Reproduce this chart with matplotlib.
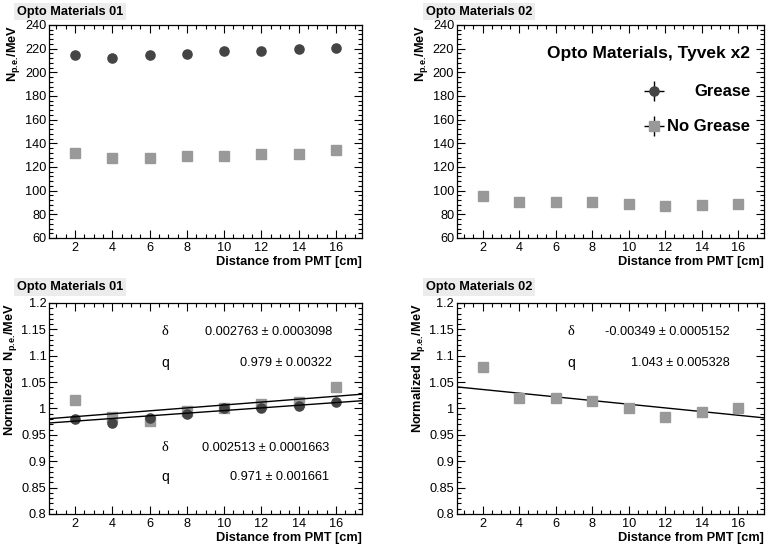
import numpy as np
import matplotlib.pyplot as plt
from matplotlib.lines import Line2D
from matplotlib.ticker import MultipleLocator, FixedLocator, FixedFormatter

plt.rcParams['font.family'] = ['Liberation Sans', 'DejaVu Sans']
plt.rcParams['mathtext.fontset'] = 'custom'
plt.rcParams['mathtext.rm'] = 'Liberation Sans:bold'
plt.rcParams['mathtext.bf'] = 'Liberation Sans:bold'

# data
dist = [2, 4, 6, 8, 10, 12, 14, 16]
om01_grease = [214.5, 212.5, 214.5, 215.7, 218.3, 218.3, 219.3, 220.5]
om01_nogrease = [131.7, 127.2, 127.2, 129.0, 129.6, 130.8, 131.2, 134.6]
om02_nogrease = [95.2, 90.3, 90.3, 90.0, 89.0, 87.0, 88.0, 88.8]

om01_grease_norm = [0.981, 0.973, 0.982, 0.989, 1.0, 1.0, 1.005, 1.012]
om01_nogrease_norm = [1.017, 0.983, 0.977, 0.995, 1.0, 1.008, 1.012, 1.040]
om02_nogrease_norm = [1.079, 1.019, 1.019, 1.015, 1.0, 0.983, 0.994, 1.0]
om02_nogrease_norm_err = [0, 0, 0, 0, 0.008, 0, 0, 0]

# fit results: (delta, delta err, q, q err)
fit01_nogrease = ('0.002763', '0.0003098', '0.979', '0.00322')
fit01_grease = ('0.002513', '0.0001663', '0.971', '0.001661')
fit02_nogrease = ('-0.00349', '0.0005152', '1.043', '0.005328')

raw_ticks = [60, 80, 100, 120, 140, 160, 180, 200, 220, 240]
norm_ticks = [0.8, 0.85, 0.9, 0.95, 1.0, 1.05, 1.1, 1.15, 1.2]
norm_labels = ['0.8', '0.85', '0.9', '0.95', '1', '1.05', '1.1', '1.15', '1.2']

c_grease = '#444444'
c_nogr = '#999999'
xlo, xhi = 0.6, 17.4
ms = 6.6

fig = plt.figure(figsize=(7.71, 5.5), dpi=100)
ax1 = fig.add_axes([0.0636, 0.5673, 0.406, 0.3873])
ax2 = fig.add_axes([0.5927, 0.5673, 0.398, 0.3873])
ax3 = fig.add_axes([0.0636, 0.0655, 0.406, 0.3836])
ax4 = fig.add_axes([0.5927, 0.0655, 0.398, 0.3836])


def style(ax, norm):
    ax.set_xlim(xlo, xhi)
    ax.xaxis.set_major_locator(MultipleLocator(2))
    ax.xaxis.set_minor_locator(MultipleLocator(0.5))
    if norm:
        ax.set_ylim(0.8, 1.2)
        ax.yaxis.set_major_locator(FixedLocator(norm_ticks))
        ax.yaxis.set_major_formatter(FixedFormatter(norm_labels))
        ax.yaxis.set_minor_locator(MultipleLocator(0.01))
    else:
        ax.set_ylim(60, 240)
        ax.yaxis.set_major_locator(FixedLocator(raw_ticks))
        ax.yaxis.set_minor_locator(MultipleLocator(4))
    ax.tick_params(which='both', direction='in', top=True, right=True,
                   labelsize=9.2, width=0.8, pad=2)
    ax.tick_params(which='major', length=6)
    ax.tick_params(which='minor', length=3)
    ax.tick_params(axis='x', pad=3)
    for s in ax.spines.values():
        s.set_linewidth(0.9)
    ax.set_xlabel('Distance from PMT [cm]', fontsize=9.2, fontweight='bold',
                  loc='right', labelpad=1)


for ax, norm in [(ax1, False), (ax2, False), (ax3, True), (ax4, True)]:
    style(ax, norm)

ax1.plot(dist, om01_nogrease, 's', color=c_nogr, ms=ms)
ax1.plot(dist, om01_grease, 'o', color=c_grease, ms=ms)
ax2.plot(dist, om02_nogrease, 's', color=c_nogr, ms=ms)

ax3.plot(dist, om01_nogrease_norm, 's', color=c_nogr, ms=ms)
ax3.plot(dist, om01_grease_norm, 'o', color=c_grease, ms=ms)
ax4.errorbar(dist, om02_nogrease_norm, yerr=om02_nogrease_norm_err, fmt='s',
             color=c_nogr, ecolor='black', elinewidth=1, ms=ms)

# fitted lines y = q + delta * x
xf = np.linspace(xlo, xhi, 2)
for ax, fits in [(ax3, [fit01_nogrease, fit01_grease]), (ax4, [fit02_nogrease])]:
    for f in fits:
        ax.plot(xf, float(f[2]) + float(f[0]) * xf, color='black', lw=1)

sub = r'N$_{\mathbf{p.\!e.\!}}$/MeV'
ax1.set_ylabel(sub, fontsize=9.2, fontweight='bold', loc='top', labelpad=2)
ax2.set_ylabel(sub, fontsize=9.2, fontweight='bold', loc='top', labelpad=2)
ax3.set_ylabel('Normilezed  ' + sub, fontsize=9.2,
               fontweight='bold', loc='top', labelpad=2)
ax4.set_ylabel('Normalized ' + sub, fontsize=9.2,
               fontweight='bold', loc='top', labelpad=2)


def fit_text(ax, f, ys, xs_sym, xs_val):
    ax.text(xs_sym, ys[0], '\u03b4', fontsize=10.5, family='Liberation Serif',
            transform=ax.transAxes, ha='left', va='center')
    ax.text(xs_sym, ys[1], 'q', fontsize=10, transform=ax.transAxes,
            ha='left', va='center')
    ax.text(xs_val, ys[0], f[0] + ' \u00b1 ' + f[1], fontsize=9.2,
            transform=ax.transAxes, ha='right', va='center')
    ax.text(xs_val, ys[1], f[2] + ' \u00b1 ' + f[3], fontsize=9.2,
            transform=ax.transAxes, ha='right', va='center')


fit_text(ax3, fit01_nogrease, [0.863, 0.716], 0.36, 0.905)
fit_text(ax3, fit01_grease, [0.313, 0.175], 0.36, 0.895)
fit_text(ax4, fit02_nogrease, [0.863, 0.716], 0.36, 0.89)

# legend (ROOT style: cross + marker, labels right aligned)
cross = Line2D([], [], ls='none', marker='+', ms=15, mew=1, color='black')
h_gr = Line2D([], [], ls='none', marker='o', ms=ms, color=c_grease)
h_ng = Line2D([], [], ls='none', marker='s', ms=ms, color=c_nogr)
leg = ax2.legend([(cross, h_gr), (cross, h_ng)], ['Grease', 'No Grease'],
                 title='Opto Materials, Tyvek x2', alignment='right',
                 loc='upper right', bbox_to_anchor=(1.0, 0.965), frameon=False,
                 prop={'size': 12, 'weight': 'bold'}, handlelength=1.6,
                 handletextpad=0.0, labelspacing=1.2, borderpad=0.3)
leg.get_title().set_fontsize(12.5)
leg.get_title().set_fontweight('bold')
leg._legend_box.sep = 17
fig.canvas.draw()
renderer = fig.canvas.get_renderer()
widths = [t.get_window_extent(renderer).width for t in leg.get_texts()]
for t, w in zip(leg.get_texts(), widths):
    t.set_position((max(widths) - w, 0))

# pad titles
for x, y, txt in [(0.022, 0.990, 'Opto Materials 01'), (0.552, 0.990, 'Opto Materials 02'),
                  (0.022, 0.489, 'Opto Materials 01'), (0.552, 0.489, 'Opto Materials 02')]:
    fig.text(x, y, txt, fontsize=9.2, fontweight='bold', ha='left', va='top',
             bbox=dict(boxstyle='square,pad=0.2', fc='#ececec', ec='none'))

fig.savefig('out.png', dpi=100)
